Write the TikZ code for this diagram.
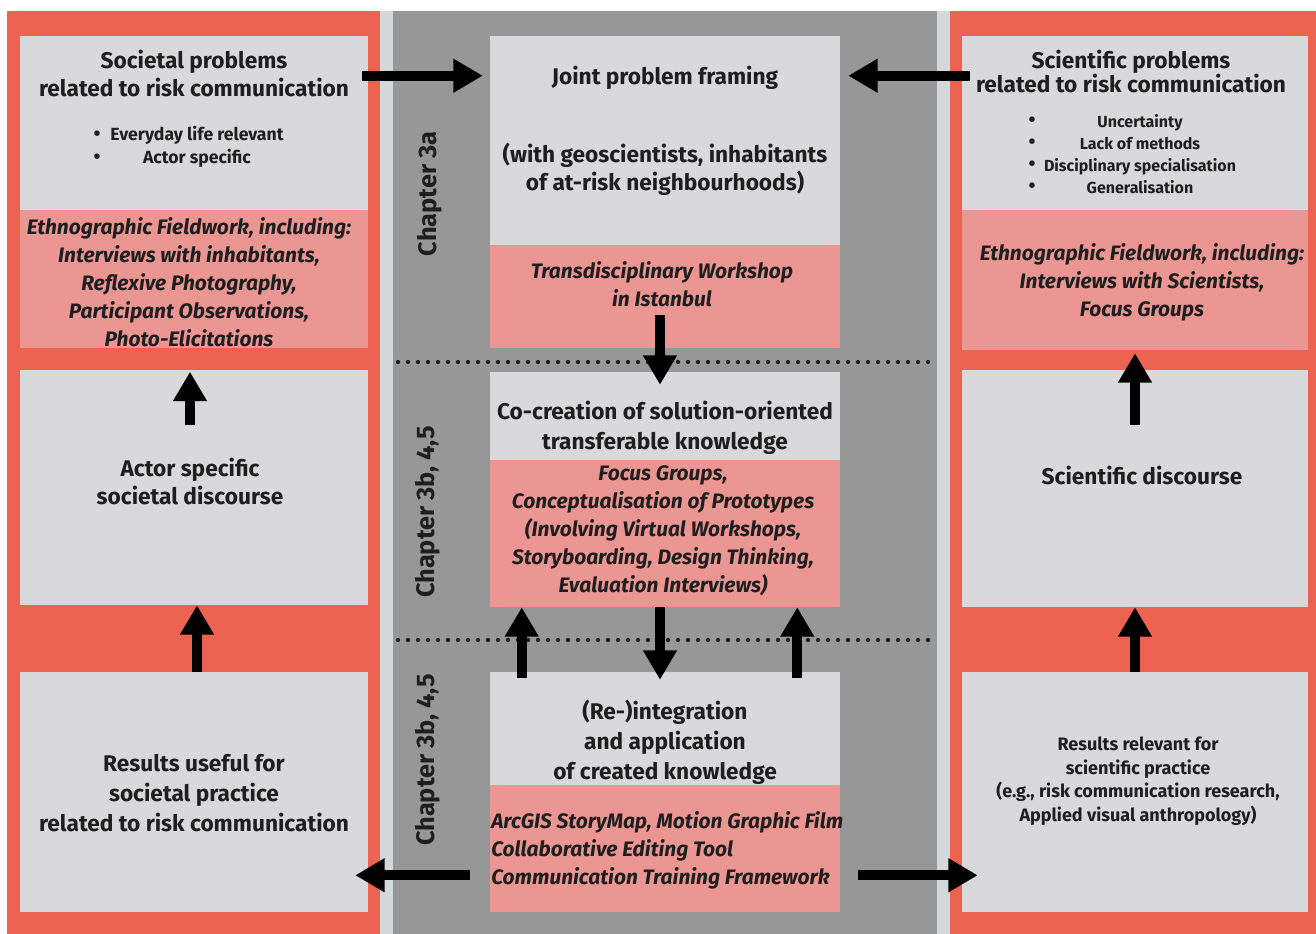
\documentclass[tikz,border=0pt]{standalone}
\usepackage{fontspec}
\setmainfont{Fira Sans}
\usetikzlibrary{fit,arrows.meta}
\definecolor{redp}{HTML}{EC6352}
\definecolor{pinkb}{HTML}{EC9694}
\definecolor{greyb}{HTML}{D9D9DB}
\definecolor{darkg}{HTML}{979797}
\definecolor{strip}{HTML}{D3D8DA}
\definecolor{txt}{HTML}{1E1E1E}
\tikzset{
  panel/.style={fit={#1}, inner sep=0pt, draw=none},
  gbox/.style={fit={#1}, inner sep=0pt, fill=greyb},
  pbox/.style={fit={#1}, inner sep=0pt, fill=pinkb},
  tb/.style={font=\bfseries\fontsize{17}{21}\selectfont, align=center, text=txt, inner sep=0pt},
  tbw/.style={font=\bfseries\fontsize{17}{22.5}\selectfont, align=center, text=txt, inner sep=0pt},
  ti/.style={font=\bfseries\itshape\fontsize{15.7}{21}\selectfont, align=center, text=txt, inner sep=0pt},
  tsm/.style={font=\bfseries\fontsize{12}{16.5}\selectfont, align=center, text=txt, inner sep=0pt},
  chap/.style={font=\bfseries\fontsize{19}{22}\selectfont, rotate=90, text=txt, inner sep=0pt},
  bigarrow/.style={draw=black, line width=7.5pt, -{Triangle[length=22pt,width=24pt]}},
  dotline/.style={draw=txt, line width=3.2pt, line cap=round, dash pattern=on 0pt off 7.5pt}
}
\begin{document}
\begin{tikzpicture}[x=0.75pt,y=-0.75pt]
\useasboundingbox (0,0) rectangle (1316,934);
% background panels
\fill[redp] (7,11) rectangle (380,934);
\fill[strip] (380,11) rectangle (393,934);
\fill[darkg] (393,11) rectangle (937,934);
\fill[strip] (937,11) rectangle (950,934);
\fill[redp] (950,11) rectangle (1316,934);
% dotted separators
\draw[dotline] (398,362) -- (935,362);
\draw[dotline] (398,640) -- (935,640);
% left column
\node[gbox={(20,36)(368,210)}] (L1g) {};
\node[pbox={(20,210)(368,348)}] (L1p) {};
\node[gbox={(20,370)(368,605)}] (L2) {};
\node[gbox={(20,672)(368,912)}] (L3) {};
% center column
\node[gbox={(490,36)(840,245)}] (C1g) {};
\node[pbox={(490,245)(840,348)}] (C1p) {};
\node[gbox={(490,372)(840,460)}] (C2g) {};
\node[pbox={(490,460)(840,607)}] (C2p) {};
\node[gbox={(490,672)(840,785)}] (C3g) {};
\node[pbox={(490,785)(840,912)}] (C3p) {};
% right column
\node[gbox={(962,36)(1308,210)}] (R1g) {};
\node[pbox={(962,210)(1308,350)}] (R1p) {};
\node[gbox={(962,370)(1308,607)}] (R2) {};
\node[gbox={(962,672)(1308,912)}] (R3) {};
% texts left
\node[tb] (tL1) at (194,74) {Societal problems\\related to risk communication};
\node[tsm, font=\bfseries\fontsize{15}{17}\selectfont] (bL1) at (97,147) {•\\•};
\node[tsm, font=\bfseries\fontsize{13.2}{17}\selectfont] (tL1b) at (197,147) {Everyday life relevant\\Actor specific};
\node[ti] (tL1p) at (189,282) {Ethnographic Fieldwork, including:\\Interviews with inhabitants,\\Reflexive Photography,\\Participant Observations,\\Photo-Elicitations};
\node[tb] (tL2) at (190,481) {Actor specific\\societal discourse};
\node[tbw] (tL3) at (194,793) {Results useful for\\societal practice\\related to risk communication};
% texts center
\node[tb] (tC1a) at (665,78) {Joint problem framing};
\node[tb] (tC1b) at (665,169) {(with geoscientists, inhabitants\\of at-risk neighbourhoods)};
\node[ti] (tC1p) at (662,284) {Transdisciplinary Workshop\\in Istanbul};
\node[tbw] (tC2) at (665,428) {Co-creation of solution-oriented\\transferable knowledge};
\node[ti] (tC2p) at (663,531) {Focus Groups,\\Conceptualisation of Prototypes\\(Involving Virtual Workshops,\\Storyboarding, Design Thinking,\\Evaluation Interviews)};
\node[tbw] (tC3) at (665,742) {(Re-)integration\\and application\\of created knowledge};
\node[ti, align=left, anchor=west] (tC3p) at (491,850) {ArcGIS StoryMap, Motion Graphic Film\\Collaborative Editing Tool\\Communication Training Framework};
% chapter labels
\node[chap] (ch1) at (430,194) {Chapter 3a};
\node[chap] (ch2) at (428,512) {Chapter 3b, 4,5};
\node[chap] (ch3) at (428,760) {Chapter 3b, 4,5};
% texts right
\node[tb, font=\bfseries\fontsize{17}{18}\selectfont] (tR1) at (1131,72) {Scientific problems\\related to risk communication};
\node[tsm, font=\bfseries\fontsize{15}{16.5}\selectfont] (bR1) at (1032,154.5) {•\\•\\•\\•};
\node[tsm] (tR1b) at (1140,154.5) {Uncertainty\\Lack of methods\\Disciplinary specialisation\\Generalisation};
\node[ti] (tR1p) at (1142,282) {Ethnographic Fieldwork, including:\\Interviews with Scientists,\\Focus Groups};
\node[tb] (tR2) at (1142,475) {Scientific discourse};
\node[tsm, font=\bfseries\fontsize{13.5}{17.6}\selectfont] (tR3) at (1138,781) {Results relevant for\\scientific practice\\(e.g., risk communication research,\\Applied visual anthropology)};
% arrows
\draw[bigarrow] ([shift={(-6,40)}]L1g.north east) -- ([shift={(-7,40)}]C1g.north west);
\draw[bigarrow] ([shift={(8,40)}]R1g.north west) -- ([shift={(8,40)}]C1g.north east);
\draw[bigarrow] ([shift={(-5,-33)}]C1p.south) -- ([shift={(-5,13)}]C2g.north);
\draw[bigarrow] ([shift={(-5,0)}]C2p.south) -- ([shift={(-5,8)}]C3g.north);
\draw[bigarrow] ([shift={(32,6)}]C3g.north west) -- ([shift={(32,0)}]C2p.south west);
\draw[bigarrow] ([shift={(-43,6)}]C3g.north east) -- ([shift={(-43,0)}]C2p.south east);
\draw[bigarrow] ([shift={(-20,-37)}]C3p.south west) -- ([shift={(-13,-37)}]L3.south east);
\draw[bigarrow] ([shift={(18,-37)}]C3p.south east) -- ([shift={(16,-37)}]R3.south west);
\draw[bigarrow] ([shift={(-4,55)}]L2.north) -- ([shift={(-4,2)}]L2.north);
\draw[bigarrow] ([shift={(3,0)}]L3.north) -- ([shift={(3,0)}]L2.south);
\draw[bigarrow] ([shift={(0,55)}]R2.north) -- ([shift={(0,3)}]R1p.south);
\draw[bigarrow] (R3.north) -- (R2.south);
\end{tikzpicture}
\end{document}
